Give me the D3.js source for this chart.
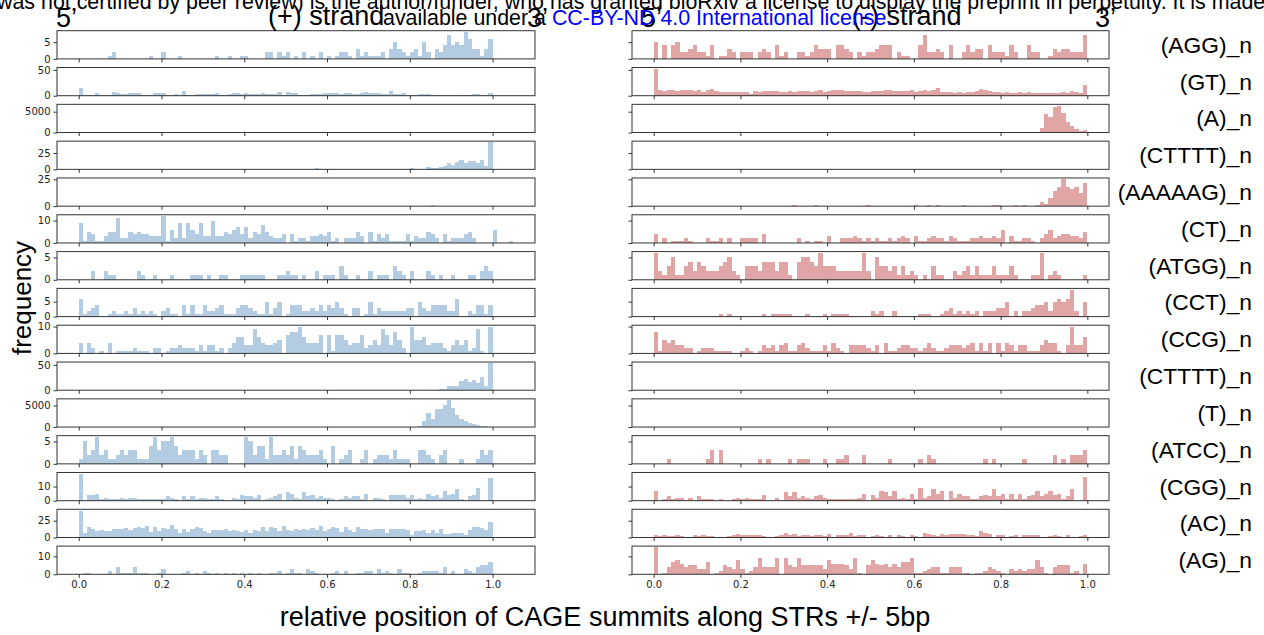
<!DOCTYPE html>
<html>
<head>
<meta charset="utf-8">
<script src="https://cdn.jsdelivr.net/npm/d3@7"></script>
<style>
  html, body { margin: 0; padding: 0; background: #fff; }
  svg { display: block; }
</style>
</head>
<body>
<svg id="chart" width="1264" height="635"></svg>
<script>
// ---------- DATA ----------
const categories = ["(AGG)_n","(GT)_n","(A)_n","(CTTTT)_n","(AAAAAG)_n","(CT)_n","(ATGG)_n","(CCT)_n","(CCG)_n","(CTTTT)_n","(T)_n","(ATCC)_n","(CGG)_n","(AC)_n","(AG)_n"];
const xTickValues = [0.0, 0.2, 0.4, 0.6, 0.8, 1.0];
const yTickValues = [[0,5],[0,50],[0,5000],[0,25],[0,25],[0,10],[0,5],[0,5],[0,10],[0,50],[0,5000],[0,5],[0,10],[0,25],[0,10]];
const binWidth = 0.01;

// sparse helper: build 100-bin counts from {bin: count}
function bins(obj, n) { const a = new Array(n || 100).fill(0); for (const k in obj) a[+k] = obj[k]; return a; }

// (+) strand histograms (counts per 0.01 bin)
const plusAGG = [0,0,0,0,0,0,0,1,2,0, 0,0,0,0,0,0,0,1,0,0, 2,0,0,0,1,0,0,0,0,0, 0,0,0,1,0,0,1,0,0,1, 1,0,0,0,0,2,2,0,2,1, 2,0,1,0,2,0,1,0,2,0, 1,0,1,2,2,1,0,3,1,2, 1,1,1,2,0,3,5,3,2,1, 2,3,1,5,2,0,3,2,4,7, 4,5,4,8,6,3,3,1,3,6];
const plusGT = [14,1,1,1,5,1,1,2,8,6, 4,4,6,6,6,2,2,2,5,6, 6,2,2,3,2,10,1,2,3,4, 3,3,3,5,1,2,3,5,6,3, 6,3,3,3,5,3,3,3,7,2, 8,6,6,1,1,1,4,4,4,6, 6,6,5,4,6,6,3,4,6,8, 6,6,6,4,4,10,4,4,6,1, 1,2,3,3,4,2,2,2,2,1, 1,1,1,1,1,4,3,2,2,5];
const plusA = bins({});
const plusCTTTT = bins({49:1,53:1,57:2,70:1,73:1,77:1,80:2,82:1,83:1,84:3,85:2,86:2,87:3,88:5,89:9,90:7,91:11,92:15,93:10,94:13,95:13,96:10,97:15,98:5,99:41});
const plusAAAAAG = bins({85:1});
const plusCT = [9,1,5,4,1,1,3,5,5,11, 2,2,5,4,5,4,4,3,3,3, 12,1,6,2,9,2,9,6,4,9, 3,3,10,3,3,5,4,6,7,4, 7,2,5,4,8,5,3,2,2,4, 0,4,1,2,2,1,3,3,4,3, 5,1,2,0,2,2,2,5,3,0, 5,1,4,2,4,1,1,1,1,4, 1,3,2,2,5,4,2,0,4,1, 2,2,2,4,5,2,0,0,0,0, 6,0,0,0,1];
const plusATGG = [0,0,0,2,0,0,2,1,1,0, 0,0,0,0,2,1,0,0,1,0, 0,0,1,0,0,0,0,1,1,1, 0,1,0,0,1,1,0,0,0,1, 1,1,1,1,1,0,0,0,1,1, 2,1,1,0,1,0,0,2,0,1, 1,1,0,3,1,0,0,1,0,0, 2,0,1,1,1,0,3,2,1,0, 2,0,0,0,2,1,0,1,0,0, 1,0,0,0,1,1,0,2,3,2];
const plusCCT = [6,1,2,3,4,0,0,1,2,1, 1,2,1,3,1,2,1,2,1,0, 2,3,1,1,0,4,1,4,1,1, 4,2,2,3,4,1,1,1,3,4, 4,3,2,1,1,5,1,3,5,0, 1,4,4,4,2,2,3,2,4,2, 4,3,5,3,1,0,3,3,0,1, 5,1,3,2,2,2,2,2,2,3, 3,0,5,3,2,4,4,4,4,2, 2,6,0,0,2,1,4,4,1,4];
const plusCCG = [4,0,4,2,0,1,0,4,0,1, 1,1,1,2,1,1,1,0,2,2, 0,1,2,2,3,2,2,2,1,3, 1,3,3,1,2,0,2,4,6,6, 3,3,9,6,4,3,3,4,5,0, 7,8,8,10,6,4,4,4,7,0, 7,1,7,7,5,3,4,4,7,2, 3,5,3,9,7,3,8,5,2,0, 10,5,5,6,3,4,4,4,2,1, 3,5,3,5,1,2,9,1,0,10];
const plusCTTTT2 = bins({32:1,41:1,62:1,70:1,72:1,74:1,78:1,79:1,82:1,83:1,85:1,86:1,87:2,88:3,89:9,90:8,91:8,92:19,93:22,94:16,95:20,96:15,97:26,98:9,99:53});
const plusT = bins({82:200,83:1300,84:3200,85:1950,86:4200,87:4150,88:5200,89:6250,90:4450,91:2700,92:1950,93:1350,94:1000,95:700,96:400,97:250,98:150,99:100});
const plusATCC = [1,5,2,3,6,2,3,1,1,2, 3,2,3,3,1,1,1,4,6,3, 5,5,6,4,2,3,3,3,1,3, 2,0,3,3,2,2,0,0,0,0, 6,5,2,4,4,1,6,2,2,3, 2,4,1,4,3,2,2,2,3,1, 0,4,0,1,2,3,0,0,1,3, 0,1,2,2,2,1,3,1,1,1, 0,0,3,3,2,1,0,2,3,0, 0,0,1,0,0,0,1,3,2,3];
const plusCGG = [19,0,4,4,5,1,2,1,1,1, 2,1,2,2,1,1,1,1,1,1, 1,3,2,1,0,3,1,3,1,2, 2,1,1,3,1,0,0,2,1,4, 3,3,2,4,0,1,2,3,5,0, 6,5,2,1,6,3,4,2,3,2, 2,1,0,1,3,2,3,3,1,5, 0,2,2,1,0,4,4,4,4,2, 4,1,2,1,5,3,4,2,7,4, 5,8,1,0,3,4,9,0,0,16];
const plusAC = [40,6,15,12,10,11,10,9,12,13, 13,14,11,14,15,14,17,8,15,9, 14,12,19,13,7,13,8,12,16,14, 10,7,11,11,11,12,9,11,10,8, 11,7,11,10,16,9,16,14,9,17, 11,10,12,11,13,11,14,11,17,9, 12,15,14,8,15,11,8,15,13,12, 11,13,12,12,7,13,13,12,13,11, 3,10,9,11,7,11,6,13,5,5, 6,6,6,4,11,15,15,14,11,23];
const plusAG = [0,1,1,0,0,0,0,2,0,4, 1,1,1,4,1,1,1,0,0,1, 3,0,0,0,0,1,2,0,1,0, 2,1,0,1,0,1,0,1,0,1, 0,1,0,1,0,0,1,1,2,0, 1,3,1,1,0,3,2,1,0,0, 0,1,2,0,2,0,0,1,1,2, 2,0,3,1,2,1,0,3,1,1, 0,0,1,2,2,2,2,1,4,0, 2,0,0,3,2,1,4,5,5,7];

// (-) strand histograms
const minusAGG = [5,0,4,0,4,5,2,2,3,4, 2,2,1,4,0,1,1,3,2,0, 2,2,2,0,2,3,2,0,4,1, 2,0,0,2,2,1,2,4,3,3, 3,0,4,4,3,2,0,2,1,2, 2,3,4,4,4,0,2,1,1,0, 0,4,7,2,2,3,2,0,4,0, 0,2,4,2,3,3,0,4,2,2, 2,1,4,2,0,0,4,2,2,0, 0,1,3,2,3,3,2,2,2,7];
const minusGT = [52,11,10,11,11,10,11,12,11,9, 12,8,11,13,9,7,8,7,8,8, 8,8,4,9,8,9,9,9,10,8, 7,9,8,10,9,9,8,9,11,8, 9,12,12,11,10,10,9,9,8,8, 9,10,9,12,11,9,9,9,9,11, 8,9,11,10,12,14,8,7,7,6, 7,6,7,8,10,13,11,10,7,8, 6,8,6,6,7,6,8,5,6,5, 5,6,6,6,7,6,9,7,6,21];
const minusA = bins({89:1200,90:4370,91:3800,92:6200,93:6440,94:4600,95:2460,96:1600,97:800,98:320,99:600});
const minusCTTTT = bins({59:1,70:1,73:1,81:1,97:1});
const minusAAAAAG = bins({32:1,37:1,49:1,60:1,63:1,65:1,71:1,78:1,79:1,83:1,85:1,88:1,89:4,90:2,91:8,92:14,93:18,94:25,95:18,96:16,97:18,98:12,99:22});
const minusCT = [4,0,2,0,1,1,1,2,1,0, 0,0,2,1,1,2,0,2,0,0, 2,2,2,2,0,4,0,0,0,0, 0,0,0,2,0,1,0,1,1,0, 3,0,0,2,2,2,3,2,1,2, 1,2,1,1,2,1,2,3,2,0, 3,1,1,2,3,2,2,1,3,2, 1,1,1,2,2,3,2,2,3,2, 6,0,3,1,1,2,2,1,0,2, 4,6,2,3,4,4,3,3,2,5];
const minusATGG = [6,2,1,3,5,1,1,3,4,2, 4,3,2,2,2,3,4,5,2,1, 0,3,3,3,2,4,4,4,2,4, 4,1,0,4,5,5,4,3,6,3, 3,3,2,2,2,2,2,2,6,2, 0,5,3,3,2,3,1,3,1,2, 1,0,1,0,3,1,1,0,0,2, 1,2,3,1,3,1,1,1,3,1, 1,1,3,1,0,0,0,1,1,6, 0,1,2,1,0,0,0,0,0,1];
const minusCCT = [0,0,0,0,0,0,0,0,0,0, 0,0,0,0,0,1,0,1,0,0, 0,0,0,0,0,1,0,1,1,1, 1,1,0,0,0,1,0,0,0,1, 0,1,1,1,1,0,0,0,0,0, 2,1,2,0,0,2,0,0,0,0, 0,1,1,1,0,0,1,2,3,1, 2,1,2,1,2,0,2,2,2,3, 3,5,0,2,0,2,2,3,4,4, 5,2,5,6,5,6,9,2,0,5];
const minusCCG = [8,1,5,4,5,3,3,2,2,0, 1,2,2,2,1,1,1,1,0,0, 1,2,1,0,1,3,2,3,1,3, 4,1,1,3,4,2,1,1,1,3, 1,4,2,1,0,3,3,3,3,2, 1,3,0,4,1,1,2,3,3,2, 2,1,2,4,2,1,1,2,3,3, 3,2,3,4,1,4,1,4,0,4, 1,4,3,1,3,3,1,1,1,3, 5,4,4,1,0,3,10,3,3,6];
const minusCTTTT2 = bins({78:1});
const minusT = bins({});
const minusATCC = bins({3:1,12:1,13:3,15:3,24:1,26:1,31:1,33:1,34:1,35:1,39:1,42:1,43:1,44:2,48:2,54:1,61:1,63:2,64:1,76:1,78:1,85:1,92:2,94:1,96:2,97:2,98:2,99:3});
const minusCGG = [7,0,1,3,1,2,2,0,2,0, 3,1,1,1,0,1,0,0,1,2, 1,2,1,1,1,4,0,0,2,0, 6,3,6,2,3,2,1,3,4,2, 1,1,1,1,1,1,1,2,5,0, 4,2,7,6,3,7,1,2,1,5, 1,9,2,3,8,5,7,0,7,2, 5,3,3,1,1,3,4,3,8,3, 5,1,5,1,5,1,3,4,7,3, 5,7,4,5,1,3,8,0,0,17];
const minusAC = [3,2,4,2,2,3,2,1,1,3, 2,3,2,2,1,0,1,2,3,5, 4,4,3,4,3,2,1,0,2,3, 7,3,5,2,3,3,2,3,4,2, 5,0,3,3,4,6,2,3,4,1, 2,4,2,1,3,1,4,2,1,4, 2,1,6,5,4,2,5,3,5,5, 5,5,3,4,2,10,6,5,0,3, 4,1,2,4,1,3,3,3,3,1, 0,2,3,2,1,3,1,0,2,4];
const minusAG = [15,0,1,4,7,8,6,4,5,5, 3,3,7,0,1,2,5,4,3,8, 3,1,2,4,9,4,4,4,9,0, 9,5,4,9,5,5,5,5,5,3, 8,6,6,6,5,3,9,1,0,5, 8,6,5,6,4,6,4,7,7,9, 1,1,2,3,4,4,1,1,4,4, 4,1,1,0,1,1,2,4,3,2, 1,0,3,2,3,2,3,3,8,4, 1,0,4,5,5,5,1,2,0,6];

const plusSeries = [plusAGG, plusGT, plusA, plusCTTTT, plusAAAAAG, plusCT, plusATGG, plusCCT, plusCCG, plusCTTTT2, plusT, plusATCC, plusCGG, plusAC, plusAG];
const minusSeries = [minusAGG, minusGT, minusA, minusCTTTT, minusAAAAAG, minusCT, minusATGG, minusCCT, minusCCG, minusCTTTT2, minusT, minusATCC, minusCGG, minusAC, minusAG];

// ---------- LAYOUT ----------
const svg = d3.select("#chart");
svg.append("rect").attr("width", 1264).attr("height", 635).attr("fill", "#fff");

const sansFont = "'Liberation Sans', Arial, Helvetica, sans-serif";
const tickFont = "'DejaVu Sans', sans-serif";
const blueFill = "#b4cce2";
const redFill = "#dfa6a5";
const spine = "#333";

const rowScale = d3.scaleBand().domain(d3.range(categories.length)).range([30.7, 574.3]).paddingInner(0.234).paddingOuter(0);
const xLeft = d3.scaleLinear().domain([-0.0525, 1.1025]).range([57, 535]);
const xRight = d3.scaleLinear().domain([-0.05, 1.05]).range([632, 1109]);

function drawPanel(g, data, x, y, fill, showYLabels, showXLabels) {
  const [x0, x1] = x.range();
  const [yb, yt] = y.range();
  g.selectAll("rect.bar").data(data.map((v, i) => ({v, i})).filter(d => d.v > 0))
    .join("rect").attr("class", "bar")
    .attr("x", d => x(d.i * binWidth))
    .attr("width", d => x((d.i + 1) * binWidth) - x(d.i * binWidth))
    .attr("y", d => y(d.v))
    .attr("height", d => y(0) - y(d.v))
    .attr("fill", fill)
    .attr("shape-rendering", "crispEdges");
  g.append("rect").attr("x", x0).attr("y", yt).attr("width", x1 - x0).attr("height", yb - yt)
    .attr("fill", "none").attr("stroke", spine).attr("stroke-width", 1);
  const xa = d3.axisBottom(x).tickValues(xTickValues).tickSize(3.5).tickPadding(3)
    .tickFormat(showXLabels ? d3.format(".1f") : () => "");
  const gx = g.append("g").attr("transform", `translate(0,${yb})`).call(xa);
  gx.select(".domain").remove();
  gx.selectAll("line").attr("stroke", spine);
  gx.selectAll("text").attr("font-family", tickFont).attr("font-size", 10).attr("fill", "#222");
  const ya = d3.axisLeft(y).tickValues(y.__ticks).tickSize(3.5).tickPadding(3)
    .tickFormat(showYLabels ? d3.format("d") : () => "");
  const gy = g.append("g").attr("transform", `translate(${x0},0)`).call(ya);
  gy.select(".domain").remove();
  gy.selectAll("line").attr("stroke", spine);
  gy.selectAll("text").attr("font-family", tickFont).attr("font-size", 10).attr("fill", "#222");
}

categories.forEach((cat, r) => {
  const top = rowScale(r), h = rowScale.bandwidth();
  const ymax = 1.05 * Math.max(d3.max(plusSeries[r]), d3.max(minusSeries[r]), 1);
  const y = d3.scaleLinear().domain([0, ymax]).range([top + h, top]);
  y.__ticks = yTickValues[r];
  const last = r === categories.length - 1;
  drawPanel(svg.append("g"), plusSeries[r], xLeft, y, blueFill, true, last);
  drawPanel(svg.append("g"), minusSeries[r], xRight, y, redFill, false, last);
  svg.append("text").attr("x", 1252).attr("y", top + h / 2).attr("dy", "0.35em")
    .attr("text-anchor", "end").attr("font-family", sansFont).attr("font-size", 22.8)
    .attr("fill", "#000").text(cat);
});

// axis titles
svg.append("text").attr("x", 605).attr("y", 626).attr("text-anchor", "middle")
  .attr("font-family", sansFont).attr("font-size", 27).attr("fill", "#000")
  .text("relative position of CAGE summits along STRs +/- 5bp");
svg.append("text").attr("transform", "translate(31,298) rotate(-90)").attr("text-anchor", "middle")
  .attr("font-family", sansFont).attr("font-size", 26).attr("fill", "#000").text("frequency");

// strand headers
const hdr = [
  {t: "5\u2019", x: 56, y: 27},
  {t: "(+) strand", x: 268, y: 25},
  {t: "3\u2019", x: 527, y: 27},
  {t: "5\u2019", x: 641, y: 27},
  {t: "(-) strand", x: 852, y: 25},
  {t: "3\u2019", x: 1095, y: 27}
];
svg.selectAll("text.hdr").data(hdr).join("text").attr("class", "hdr")
  .attr("x", d => d.x).attr("y", d => d.y)
  .attr("font-family", sansFont).attr("font-size", 27).attr("fill", "#000").text(d => d.t);

// bioRxiv overlay notice
svg.append("text").attr("x", -3).attr("y", 9).attr("font-family", sansFont).attr("font-size", 21.4).attr("fill", "#000")
  .text("was not certified by peer review) is the author/funder, who has granted bioRxiv a license to display the preprint in perpetuity. It is made");
const l2 = svg.append("text").attr("x", 383).attr("y", 25).attr("font-family", sansFont).attr("font-size", 21.4).attr("fill", "#000");
l2.append("tspan").text("available under a ");
l2.append("tspan").attr("fill", "#0000ff").text("CC-BY-ND 4.0 International license.");
</script>
</body>
</html>
